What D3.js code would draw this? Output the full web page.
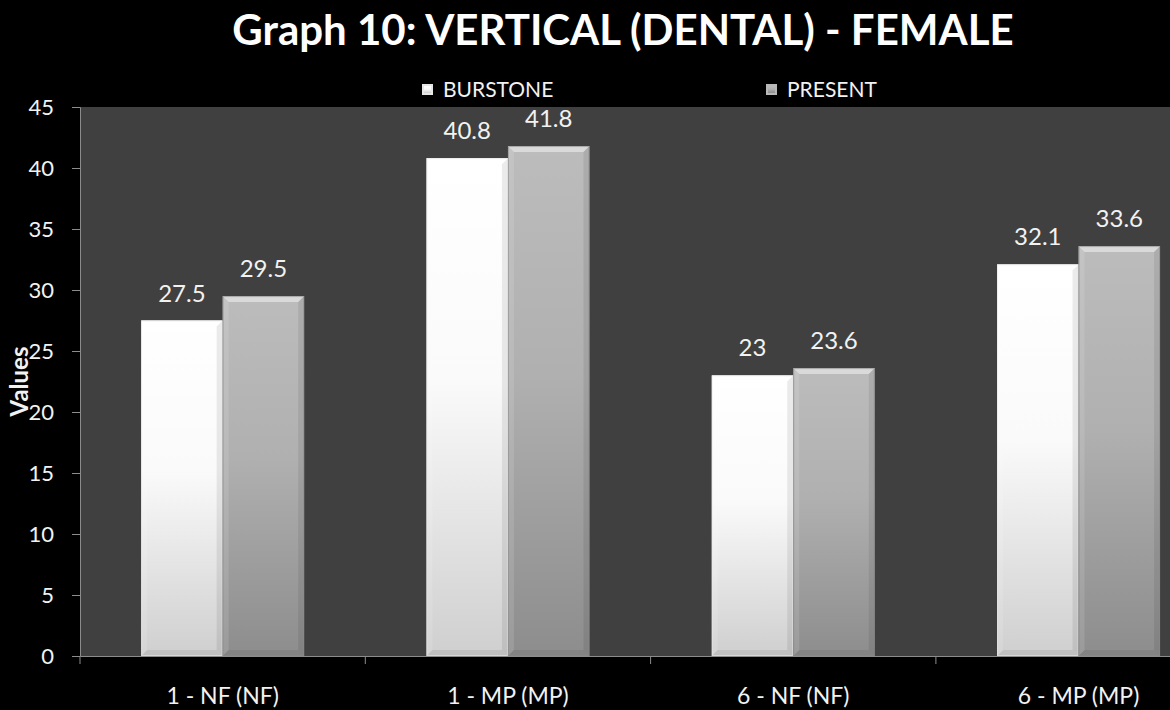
<!DOCTYPE html>
<html>
<head>
<meta charset="utf-8">
<script src="https://cdn.jsdelivr.net/npm/d3@7"></script>
<style>
  html, body { margin: 0; padding: 0; background: #000; }
  svg { display: block; }
  text { font-family: Lato, "Open Sans", sans-serif; fill: #f2f2f2; }
</style>
</head>
<body>
<svg id="chart" width="1170" height="710"></svg>
<script>
// Chart data
const categories = ["1 - NF (NF)", "1 - MP (MP)", "6 - NF (NF)", "6 - MP (MP)"];
const seriesNames = ["BURSTONE", "PRESENT"];
const burstone = [27.5, 40.8, 23, 32.1];
const present = [29.5, 41.8, 23.6, 33.6];
const yTicks = [0, 5, 10, 15, 20, 25, 30, 35, 40, 45];
const titleText = "Graph 10: VERTICAL (DENTAL) - FEMALE";
const yAxisTitle = "Values";

const svg = d3.select("#chart");

// Plot area: the category band runs past the right edge of the canvas
const plot = { left: 80, top: 107, bottom: 656, right: 80 + 4 * 285.3 };

const x = d3.scaleBand().domain(categories).range([plot.left, plot.right]).paddingInner(0).paddingOuter(0);
const xs = d3.scaleBand().domain(seriesNames).range([0, x.bandwidth()]).paddingInner(0).paddingOuter(0.75);
const y = d3.scaleLinear().domain([0, 45]).range([plot.bottom, plot.top]);

const defs = svg.append("defs");
function vGrad(id, stops) {
  const g = defs.append("linearGradient").attr("id", id).attr("x1", 0).attr("y1", 0).attr("x2", 0).attr("y2", 1);
  stops.forEach(s => g.append("stop").attr("offset", s[0]).attr("stop-color", s[1]));
}
vGrad("gB", [[0, "#ffffff"], [0.45, "#fafafa"], [1, "#cfcfcf"]]);
vGrad("gP", [[0, "#bcbcbc"], [0.45, "#b0b0b0"], [1, "#8d8d8d"]]);
const fills = { BURSTONE: "url(#gB)", PRESENT: "url(#gP)" };
const edge = { BURSTONE: "#e8e8e8", PRESENT: "#8a8a8a" };

// Plot background
svg.append("rect")
  .attr("x", plot.left).attr("y", plot.top)
  .attr("width", plot.right - plot.left).attr("height", plot.bottom - plot.top)
  .attr("fill", "#404040");

// Title
svg.append("text")
  .attr("x", 623).attr("y", 45)
  .attr("text-anchor", "middle")
  .style("font-size", "42px").style("font-weight", "bold")
  .style("fill", "#ffffff")
  .text(titleText);

// Legend
const legendPos = { BURSTONE: 422, PRESENT: 766 };
seriesNames.forEach(s => {
  const g = svg.append("g").attr("transform", `translate(${legendPos[s]},84)`);
  g.append("rect").attr("width", 11).attr("height", 11).attr("fill", s === "BURSTONE" ? "#e6e6e6" : "#b8b8b8");
  g.append("rect").attr("x", 2).attr("y", 2).attr("width", 7).attr("height", 7).attr("fill", fills[s]);
  g.append("text").attr("x", 21).attr("y", 13).style("font-size", "21px").text(s);
});

// Bars with a bevelled look
const bars = [];
categories.forEach((c, i) => {
  bars.push({ cat: c, s: "BURSTONE", v: burstone[i] });
  bars.push({ cat: c, s: "PRESENT", v: present[i] });
});

const bg = svg.append("g");
bars.forEach(d => {
  const x0 = x(d.cat) + xs(d.s), w = xs.bandwidth();
  const y0 = y(d.v), y1 = y(0), x1 = x0 + w, b = 6;
  const g = bg.append("g");
  g.append("rect").attr("x", x0).attr("y", y0).attr("width", w).attr("height", y1 - y0)
    .attr("fill", fills[d.s]);
  // top bevel
  g.append("polygon").attr("points", [[x0, y0], [x1, y0], [x1 - b, y0 + b], [x0 + b, y0 + b]].join(" "))
    .attr("fill", "#ffffff").attr("opacity", d.s === "BURSTONE" ? 0.9 : 0.45);
  // left bevel
  g.append("polygon").attr("points", [[x0, y0], [x0 + b, y0 + b], [x0 + b, y1 - b], [x0, y1]].join(" "))
    .attr("fill", "#ffffff").attr("opacity", 0.12);
  // right bevel
  g.append("polygon").attr("points", [[x1, y0], [x1 - b, y0 + b], [x1 - b, y1 - b], [x1, y1]].join(" "))
    .attr("fill", "#000000").attr("opacity", 0.08);
  // bottom bevel
  g.append("polygon").attr("points", [[x0, y1], [x0 + b, y1 - b], [x1 - b, y1 - b], [x1, y1]].join(" "))
    .attr("fill", "#000000").attr("opacity", 0.07);
  g.append("rect").attr("x", x0 + 0.5).attr("y", y0 + 0.5).attr("width", w - 1).attr("height", y1 - y0 - 1)
    .attr("fill", "none").attr("stroke", edge[d.s]).attr("stroke-opacity", 0.6);
  // value label
  svg.append("text")
    .attr("x", x0 + w / 2).attr("y", y0 - 19)
    .attr("text-anchor", "middle")
    .style("font-size", "24px")
    .text(d.v);
});

// Y axis
const yAxis = d3.axisLeft(y).tickValues(yTicks).tickSize(8).tickPadding(6);
const gy = svg.append("g").attr("transform", `translate(${plot.left},0)`).call(yAxis);
gy.select(".domain").attr("stroke", "#8c8c8c");
gy.selectAll(".tick line").attr("stroke", "#8c8c8c");
gy.selectAll(".tick text").style("font-size", "22px").style("font-family", "Lato, sans-serif").attr("fill", "#f2f2f2").attr("x", -26);

// X axis
const xAxis = d3.axisBottom(x).tickSize(0).tickPadding(0);
const gx = svg.append("g").attr("transform", `translate(0,${plot.bottom})`).call(xAxis);
gx.select(".domain").attr("stroke", "#8c8c8c");
gx.selectAll(".tick text").style("font-size", "23px").style("font-family", "Lato, sans-serif")
  .attr("fill", "#f2f2f2").attr("y", 32).attr("dy", "0.71em");
// category boundary ticks
gx.selectAll(".cat-tick").data(categories).enter().append("line")
  .attr("x1", d => x(d)).attr("x2", d => x(d))
  .attr("y1", 0).attr("y2", 8).attr("stroke", "#8c8c8c");

// Y axis title
svg.append("text")
  .attr("transform", `translate(28,${(plot.top + plot.bottom) / 2}) rotate(-90)`)
  .attr("text-anchor", "middle")
  .style("font-size", "24px").style("font-weight", "bold")
  .text(yAxisTitle);
</script>
</body>
</html>
